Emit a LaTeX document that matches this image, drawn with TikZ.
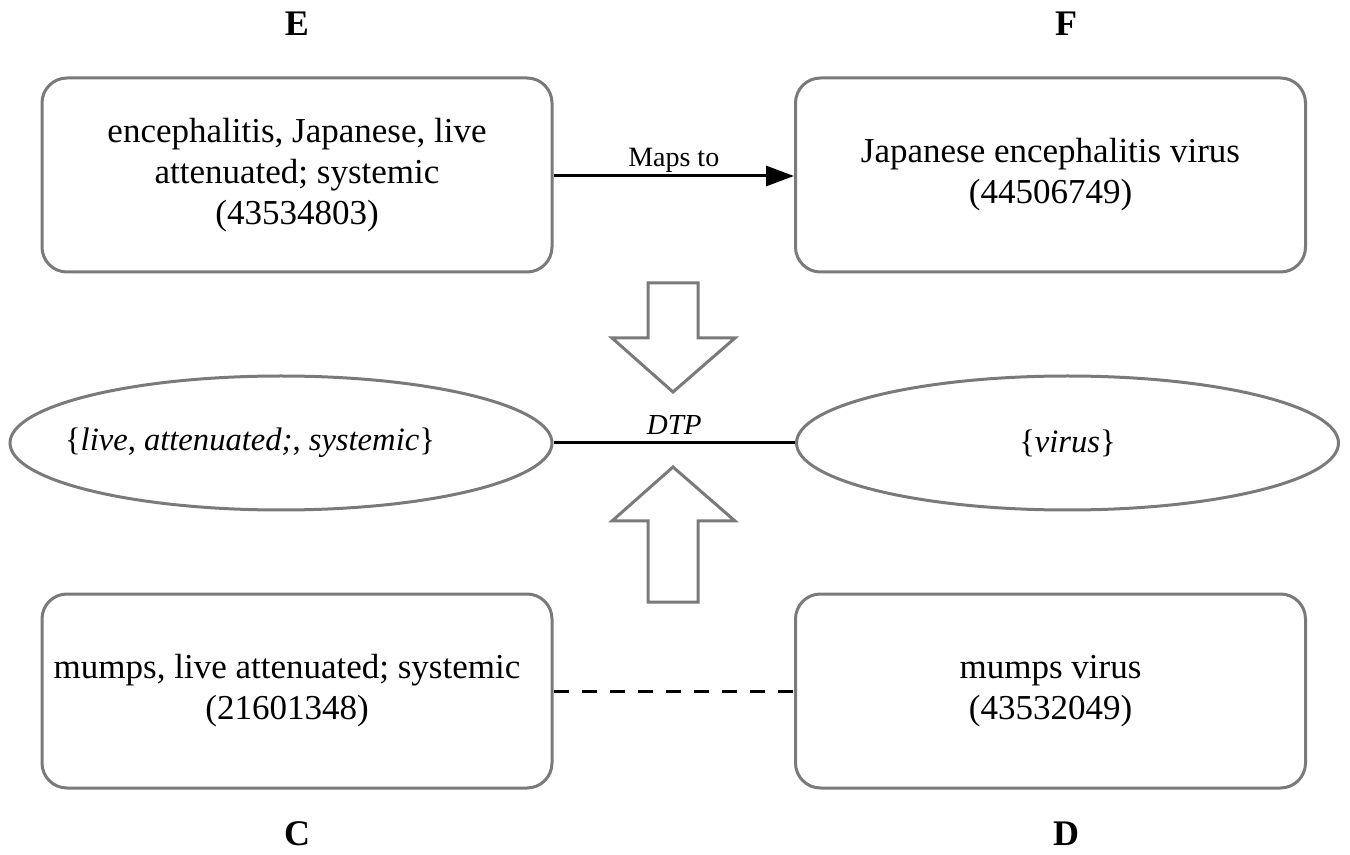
\documentclass[tikz,border=0pt]{standalone}
\usepackage{fontspec}
\setmainfont{Liberation Serif}
\usetikzlibrary{shapes.geometric,arrows.meta}
\begin{document}
\begin{tikzpicture}[x=0.5pt,y=-0.5pt,
  concept/.style={draw=black!52,line width=1.5pt,rounded corners=12.5pt,
    minimum width=255pt,minimum height=97pt,align=center,
    font=\fontsize{17.5}{20.5}\selectfont,inner sep=0pt},
  wordset/.style={ellipse,draw=black!52,line width=1.5pt,
    minimum width=271pt,minimum height=67pt,inner sep=0pt},
  settext/.style={font=\fontsize{16.3}{19}\selectfont,inner sep=0pt},
  tag/.style={font=\fontsize{18}{20}\selectfont\bfseries},
  link/.style={line width=1.5pt,black},
  blockarrow/.style={draw=black!52,line width=1.5pt,fill=white,line join=miter}]
\useasboundingbox (0,0) rectangle (1350,855);

% vaccine and pathogen concepts
\node[concept] (E) at (297,175) {encephalitis, Japanese, live\\attenuated; systemic\\(43534803)};
\node[concept] (F) at (1050.5,175) {Japanese encephalitis virus\\(44506749)};
\node[concept] (C) at (297,691) {mumps, live attenuated; systemic\hspace*{10pt}\\(21601348)\hspace*{10pt}};
\node[concept] (D) at (1050.5,691) {mumps virus\\(43532049)};

% token sets
\node[wordset] (L) at (281,443) {};
\node[settext] (Lt) at (250,443) {\{\textit{live}, \textit{attenuated;}, \textit{systemic}\}};
\node[wordset,settext] (R) at (1067.5,443) {\{\textit{virus}\}};

% panel letters
\node[tag] (tE) at (297,24) {E};
\node[tag] (tF) at (1066,24) {F};
\node[tag] (tC) at (297,834) {C};
\node[tag] (tD) at (1066,834) {D};

% connectors
\draw[link,-{Triangle[length=14pt,width=10pt]}] (E.east |- 0,176) -- node[above=-2.5pt,font=\fontsize{14}{16}\selectfont] (mt) {Maps to} (F.west |- 0,176);
\draw[link] (L.east) -- node[above=0pt,font=\fontsize{14.5}{16}\selectfont\itshape] (dtp) {DTP} (R.west);
\draw[link,dash pattern=on 7.5pt off 6.5pt] (C.east) -- (D.west);

% hollow block arrows
\draw[blockarrow] (648,283) -- (698,283) -- (698,338) -- (735,338) -- (673,392)
  -- (612,338) -- (648,338) -- cycle;
\draw[blockarrow] (648,602) -- (698,602) -- (698,521) -- (735,521) -- (673,467)
  -- (612,521) -- (648,521) -- cycle;
\end{tikzpicture}
\end{document}
